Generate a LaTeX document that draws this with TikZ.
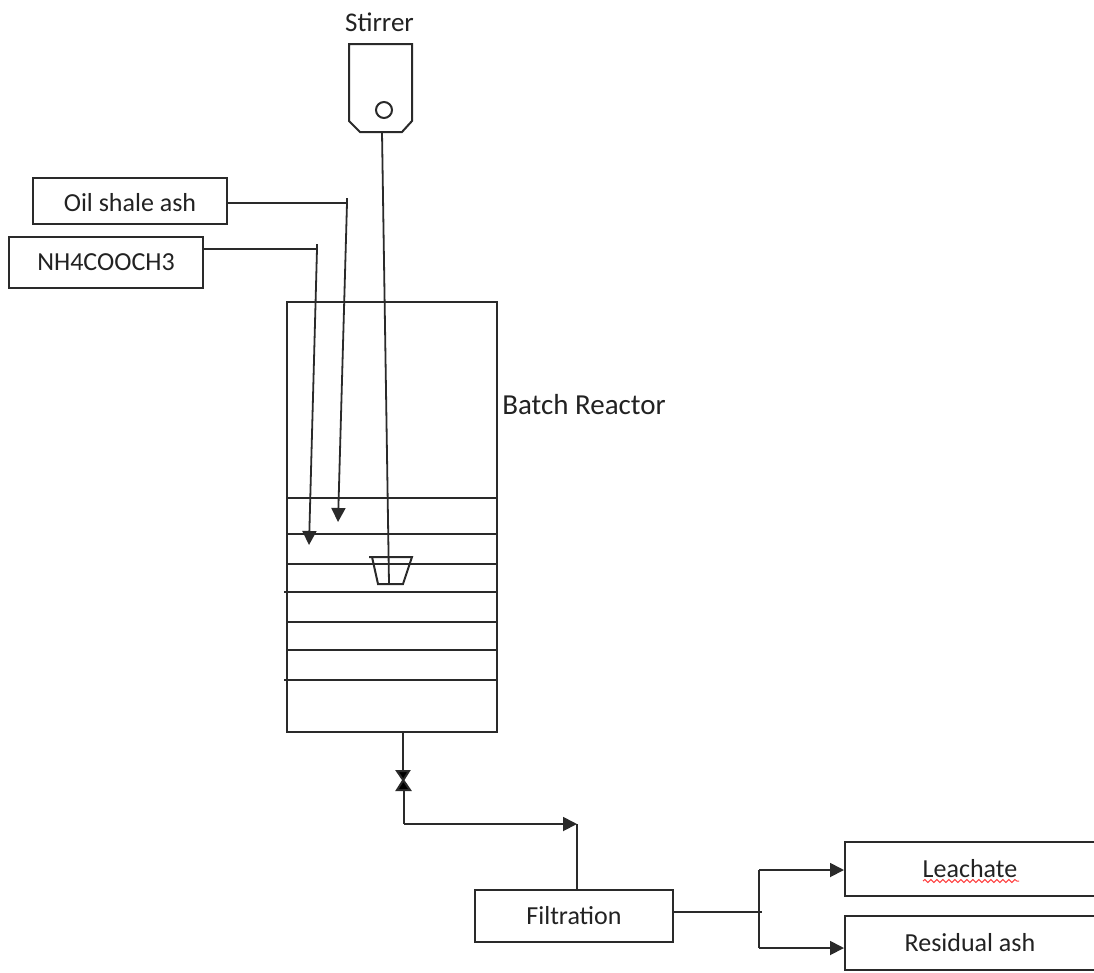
\documentclass[tikz,border=0pt]{standalone}
\usepackage{fontspec}
\setmainfont{Carlito}
\usetikzlibrary{calc,arrows.meta,decorations.pathmorphing}
\definecolor{linegray}{HTML}{2A2A2A}
\definecolor{textgray}{HTML}{222222}
\begin{document}
\begin{tikzpicture}[x=1pt,y=-1pt,line width=2pt,draw=linegray,
  flow/.style={-{Triangle[length=14pt,width=14pt]},line width=1.8pt},
  pipe/.style={line width=1.8pt},
  main box/.style={draw,minimum width=#1,inner sep=0pt,text=textgray,font=\fontsize{26}{28}\selectfont},
  plain label/.style={inner sep=0pt,text=textgray}]
  \useasboundingbox (0,0) rectangle (1094,972);
  \node (ash) [main box=194pt,minimum height=46pt,text height=21pt] at (130,201) {Oil shale ash};
  \node (salt) [main box=194pt,minimum height=51pt] at (106,262.5) {NH4COOCH3};
  \node (reactor) [draw,minimum width=210pt,minimum height=430pt] at (392,517) {};
  \node (filter) [main box=198pt,minimum height=52pt] at (574,916) {Filtration};
  \node (leachate) [main box=250pt,minimum height=54pt] at (970,869) {Leachate};
  \node (residual) [main box=250pt,minimum height=54pt] at (970,943) {Residual ash};
  \node (stirrer) [plain label,font=\fontsize{27}{29}\selectfont] at (379.5,22) {Stirrer};
  \node (batch) [plain label,font=\fontsize{29}{31}\selectfont] at (584,405) {Batch Reactor};
  % stirrer body
  \draw (349,44) -- (412,44) -- (412,121) -- (402,132) -- (360,132) -- (349,121) -- cycle;
  \draw (384,110) circle (8pt);
  % liquid levels
  \foreach \y/\a in {498/287,534/287,564/287,592/284,622/287,650/287,680/284}
    \draw (\a,\y) -- (497,\y);
  % feeds
  \coordinate (ashbend) at (347,203);
  \coordinate (ashend) at (338,522);
  \coordinate (saltbend) at (317,249);
  \coordinate (saltend) at (309,545);
  \draw[pipe] (ash.east |- ashbend) -- (ashbend);
  \draw[pipe] (347,198) -- (347,208);
  \draw[flow] (ashbend) -- (ashend);
  \draw[pipe] (salt.east |- saltbend) -- (saltbend);
  \draw[pipe] (317,244) -- (317,254);
  \draw[flow] (saltbend) -- (saltend);
  % shaft and impeller
  \coordinate (shafttop) at (382,132);
  \coordinate (shaftend) at (389,584);
  \draw[pipe] (shafttop) -- (shaftend);
  \draw (369,557) -- (412,557) -- (403,584) -- (378,584) -- (372,557);
  % outlet valve
  \coordinate (valvetop) at (403,771);
  \coordinate (valvebottom) at (404,790);
  \coordinate (bend) at (404,824);
  \coordinate (filtertop) at (577,824);
  \draw[pipe] (403,732) -- (valvetop);
  \filldraw[fill=black,line width=2pt] (397,771) -- (409,771) -- (397,790) -- (410,790) -- cycle;
  \draw[pipe] (valvebottom) -- (bend);
  \draw[flow] (bend) -- (filtertop);
  \draw[pipe] (577,890) -- (filtertop);
  % split after filtration
  \coordinate (split) at (759,912);
  \coordinate (splittop) at (759,870);
  \coordinate (splitbottom) at (759,948);
  \draw[pipe] (filter.east |- split) -- (762,912);
  \draw[pipe] (splitbottom) -- (splittop);
  \draw[flow] (splittop) -- (leachate.west |- splittop);
  \draw[flow] (splitbottom) -- (residual.west |- splitbottom);
  % spell check mark
  \draw[red!75!white,line width=1pt,decorate,decoration={snake,amplitude=1.5pt,segment length=6pt}]
    (923,881) -- (1019,881);
\end{tikzpicture}
\end{document}
